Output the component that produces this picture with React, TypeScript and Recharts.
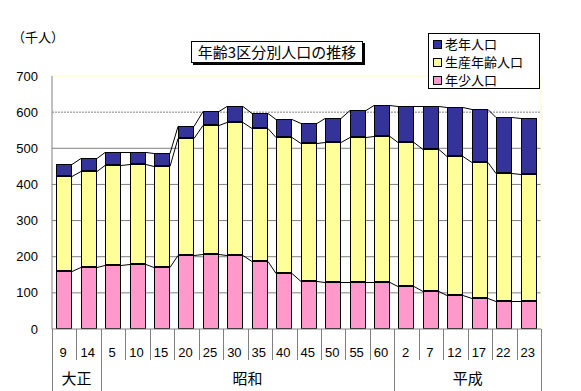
import React from 'react';
import { BarChart, Bar, XAxis, YAxis, CartesianGrid } from 'recharts';

const categories = ['9', '14', '5', '10', '15', '20', '25', '30', '35', '40', '45', '50', '55', '60', '2', '7', '12', '17', '22', '23'];
const eraNames = ['大正', '昭和', '平成'];
const eraStarts = [0, 2, 14];
const eraCounts = [2, 12, 6];
const young = [161, 172, 178, 180, 172, 205, 208, 205, 189, 156, 133, 130, 130, 130, 119, 106, 94, 86, 78, 78];
const productive = [262, 266, 276, 276, 279, 323, 357, 368, 368, 376, 383, 388, 402, 405, 399, 392, 384, 377, 355, 352];
const elderly = [33, 34, 37, 35, 35, 35, 37, 44, 42, 48, 53, 65, 73, 84, 98, 118, 135, 145, 153, 153];
const yTicks = [0, 100, 200, 300, 400, 500, 600, 700];
const seriesNames = ['年少人口', '生産年齢人口', '老年人口'];
const colors = ['#ff99cc', '#ffff99', '#333399'];

const SERIES = [young, productive, elderly];
const KEYS = ['young', 'productive', 'elderly'];
const data = categories.map((c, i) => ({
  cat: c,
  young: young[i],
  productive: productive[i],
  elderly: elderly[i],
}));

const W = 581;
const H = 391;
const M_TOP = 76;
const M_LEFT = 12;
const M_RIGHT = 40;
const Y_W = 40;
const X_H = 62;
const PLOT_LEFT = M_LEFT + Y_W;
const PLOT_RIGHT = W - M_RIGHT;
const PLOT_BOTTOM = H - X_H;
const N = categories.length;
const STEP = (PLOT_RIGHT - PLOT_LEFT) / N;

const NUM_FONT = '"Liberation Sans", "Noto Sans CJK JP", sans-serif';
const JP_FONT = '"Noto Sans CJK JP", sans-serif';
const GRAY = '#808080';

const cum = (i: number, level: number) => {
  let s = 0;
  for (let k = 0; k <= level; k++) s += SERIES[k][i];
  return s;
};

const makeShape = (level: number) => (props: any) => {
  const { x, y, width, height, index, fill } = props;
  const seg = SERIES[level][index];
  const base = level > 0 ? cum(index, level - 1) : 0;
  const bottom = y + height;
  const ppu = seg ? height / seg : 0;
  const rx = Math.round(x);
  const ry = Math.round(y);
  const rb = Math.round(bottom);
  const rw = Math.round(width);
  let line = null;
  if (index < N - 1) {
    const nextTop = cum(index + 1, level);
    const ny = Math.round(bottom - (nextTop - base) * ppu);
    line = (
      <line x1={rx + rw} y1={ry + 0.5} x2={Math.round(x + STEP)} y2={ny + 0.5} stroke="#000" strokeWidth={1} />
    );
  }
  return (
    <g>
      <rect x={rx + 0.5} y={ry + 0.5} width={rw - 1} height={Math.max(0, rb - ry - 1)} fill={fill} stroke="#000" strokeWidth={1} />
      {line}
    </g>
  );
};

const XTick = (props: any) => {
  const { x, payload } = props;
  const idx = categories.indexOf(String(payload.value));
  const left = Math.round(x - STEP / 2) + 0.5;
  const eraIdx = eraStarts.indexOf(idx);
  const isEra = eraIdx >= 0;
  return (
    <g>
      <line x1={left} y1={PLOT_BOTTOM} x2={left} y2={isEra ? H : PLOT_BOTTOM + 31} stroke={GRAY} strokeWidth={1} />
      <text x={x - 1} y={PLOT_BOTTOM + 28} textAnchor="middle" fontSize={13} fontFamily={NUM_FONT} fill="#000">
        {payload.value}
      </text>
      {isEra && (
        <text
          x={x - STEP / 2 + (eraCounts[eraIdx] * STEP) / 2}
          y={PLOT_BOTTOM + 55}
          textAnchor="middle"
          fontSize={15}
          fontFamily={JP_FONT}
          fontWeight={400}
          fill="#000"
        >
          {eraNames[eraIdx]}
        </text>
      )}
      {idx === N - 1 && (
        <line
          x1={Math.round(x + STEP / 2) + 0.5}
          y1={PLOT_BOTTOM}
          x2={Math.round(x + STEP / 2) + 0.5}
          y2={H}
          stroke={GRAY}
          strokeWidth={1}
        />
      )}
    </g>
  );
};

const legendOrder = [2, 1, 0];

export default function App() {
  return (
    <div style={{ position: 'absolute', left: 0, top: 0, width: W, height: H, background: '#fff', overflow: 'hidden' }}>
      <BarChart
        width={W}
        height={H}
        data={data}
        margin={{ top: M_TOP, right: M_RIGHT, bottom: 0, left: M_LEFT }}
        barCategoryGap="17%"
      >
        <CartesianGrid horizontalValues={[100, 200, 300, 400, 500]} vertical={false} stroke={GRAY} />
        <CartesianGrid horizontalValues={[600]} vertical={false} stroke={GRAY} strokeDasharray="2 1" />
        <CartesianGrid horizontalValues={[700]} verticalPoints={[PLOT_RIGHT]} stroke="#ffffc0" />
        <YAxis
          type="number"
          domain={[0, 700]}
          ticks={yTicks}
          width={Y_W}
          tickLine={false}
          axisLine={{ stroke: GRAY }}
          tickMargin={8}
          tick={{ fontSize: 13, fill: '#000', fontFamily: NUM_FONT }}
          interval={0}
        />
        <XAxis
          dataKey="cat"
          height={X_H}
          interval={0}
          tickLine={false}
          axisLine={{ stroke: GRAY }}
          tick={<XTick />}
        />
        {KEYS.map((k, i) => (
          <Bar
            key={k}
            dataKey={k}
            name={seriesNames[i]}
            stackId="a"
            fill={colors[i]}
            isAnimationActive={false}
            shape={makeShape(i)}
          />
        ))}
      </BarChart>

      <div
        style={{
          position: 'absolute',
          left: 12,
          top: 29,
          fontSize: 13,
          fontFamily: JP_FONT,
          lineHeight: '16px',
          whiteSpace: 'nowrap',
        }}
      >
        （千人）
      </div>

      <div
        style={{
          position: 'absolute',
          left: 191,
          top: 41,
          width: 170,
          height: 20,
          border: '1px solid #000',
          background: '#fff',
          boxShadow: '2px 2px 0 #000',
          fontSize: 15,
          fontFamily: JP_FONT,
          lineHeight: '20px',
          textAlign: 'center',
          whiteSpace: 'nowrap',
        }}
      >
        年齢3区分別人口の推移
      </div>

      <div
        style={{
          position: 'absolute',
          left: 428,
          top: 33,
          width: 112,
          height: 56,
          border: '1px solid #000',
          background: '#fff',
          fontFamily: JP_FONT,
          fontSize: 13,
          boxSizing: 'border-box',
          paddingTop: 1,
        }}
      >
        {legendOrder.map((si) => (
          <div key={si} style={{ display: 'flex', alignItems: 'center', height: 18, whiteSpace: 'nowrap' }}>
            <span
              style={{
                display: 'inline-block',
                width: 7,
                height: 7,
                border: '1px solid #000',
                background: colors[si],
                marginLeft: 4,
                marginRight: 3,
              }}
            />
            <span style={{ display: 'inline-block', height: 18, lineHeight: '18px', overflow: 'visible' }}>
              {seriesNames[si]}
            </span>
          </div>
        ))}
      </div>
    </div>
  );
}
